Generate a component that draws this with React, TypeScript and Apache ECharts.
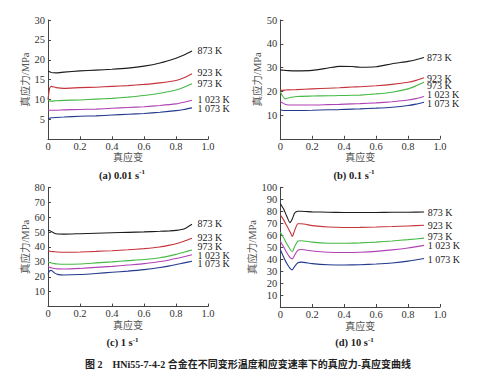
import React, { useEffect, useRef } from "react";
import * as echarts from "echarts";

const temps = ["873 K", "923 K", "973 K", "1 023 K", "1 073 K"];
const colors = ["#1c1c1c", "#c4343a", "#46b946", "#b043b4", "#243a8e"];

// (a) 0.01 s-1
const strainA = [0, 0.01, 0.02, 0.05, 0.1, 0.2, 0.3, 0.4, 0.5, 0.6, 0.7, 0.8, 0.85, 0.9];
const a873 = [17.1, 17.0, 16.8, 16.7, 16.9, 17.2, 17.4, 17.6, 17.9, 18.4, 19.2, 20.4, 21.2, 22.2];
const a923 = [10.0, 12.8, 13.3, 13.0, 12.8, 13.0, 13.1, 13.3, 13.5, 13.8, 14.2, 14.8, 15.5, 16.5];
const a973 = [10.0, 9.6, 9.6, 9.7, 9.8, 9.9, 10.1, 10.3, 10.6, 11.0, 11.6, 12.4, 13.1, 14.0];
const a1023 = [7.4, 7.3, 7.3, 7.3, 7.4, 7.5, 7.6, 7.8, 8.0, 8.2, 8.5, 8.9, 9.3, 9.8];
const a1073 = [5.2, 5.3, 5.4, 5.5, 5.6, 5.8, 5.9, 6.1, 6.3, 6.5, 6.8, 7.2, 7.5, 7.9];

// (b) 0.1 s-1
const strainB = [0, 0.01, 0.03, 0.05, 0.1, 0.2, 0.3, 0.37, 0.45, 0.5, 0.6, 0.7, 0.8, 0.85, 0.9];
const b873 = [29.0, 28.9, 28.8, 28.7, 28.6, 28.8, 29.8, 30.5, 30.4, 30.1, 30.3, 31.6, 32.6, 33.3, 34.2];
const b923 = [20.5, 20.4, 20.5, 20.6, 20.7, 21.0, 21.3, 21.5, 21.8, 21.9, 22.3, 22.9, 23.8, 24.6, 25.7];
const b973 = [19.8, 18.5, 16.8, 17.2, 17.8, 18.0, 18.1, 18.2, 18.3, 18.4, 18.9, 19.6, 21.0, 22.3, 23.8];
const b1023 = [15.6, 15.3, 14.5, 14.2, 14.2, 14.2, 14.4, 14.5, 14.7, 14.8, 15.1, 15.6, 16.3, 16.9, 17.8];
const b1073 = [12.2, 12.0, 11.9, 11.9, 11.9, 12.0, 12.2, 12.3, 12.5, 12.6, 12.9, 13.3, 14.0, 14.6, 15.4];

// (c) 1 s-1
const strainC = [0, 0.01, 0.02, 0.04, 0.06, 0.1, 0.2, 0.3, 0.4, 0.5, 0.6, 0.7, 0.76, 0.8, 0.85, 0.9];
const c873 = [51.2, 51.0, 50.3, 49.2, 48.7, 48.6, 48.9, 49.2, 49.5, 49.8, 50.1, 50.5, 50.8, 51.1, 52.0, 55.2];
const c923 = [37.4, 37.2, 37.0, 36.8, 36.6, 36.4, 36.6, 37.0, 37.5, 38.1, 38.9, 40.0, 41.2, 42.2, 43.8, 45.8];
const c973 = [30.0, 29.6, 29.2, 28.8, 28.6, 28.4, 28.6, 29.3, 30.0, 30.8, 31.6, 32.8, 34.0, 35.0, 36.5, 38.0];
const c1023 = [26.8, 26.4, 26.0, 25.5, 25.3, 25.2, 25.6, 26.3, 27.0, 27.9, 28.8, 30.2, 31.3, 32.2, 33.4, 34.8];
const c1073 = [21.6, 24.0, 24.3, 22.6, 21.6, 21.2, 21.5, 22.2, 23.0, 23.8, 24.8, 26.2, 27.3, 28.2, 29.3, 30.4];

// (d) 10 s-1
const strainD = [0, 0.02, 0.04, 0.06, 0.075, 0.09, 0.11, 0.13, 0.2, 0.3, 0.4, 0.5, 0.6, 0.7, 0.8, 0.9];
const d873 = [86.5, 82, 76, 70.5, 73.5, 78.5, 80.0, 80.0, 79.5, 79.2, 79.0, 79.0, 79.0, 79.1, 79.2, 79.4];
const d923 = [77, 73, 68, 63, 59, 64, 69.5, 69.5, 68.0, 66.8, 66.4, 66.5, 66.8, 67.2, 67.7, 68.3];
const d973 = [62.5, 58, 53, 48.5, 46.2, 50.5, 55.2, 55.4, 54.2, 53.3, 53.2, 53.6, 54.2, 55.2, 56.3, 57.5];
const d1023 = [55, 50.5, 45.5, 41.5, 40.2, 43.5, 47.5, 48.0, 46.8, 45.8, 45.5, 45.8, 46.5, 47.7, 49.3, 51.5];
const d1073 = [48, 42, 36.5, 32.5, 31.0, 34.0, 37.0, 37.5, 36.2, 35.3, 35.1, 35.3, 35.9, 36.8, 38.3, 40.5];

const xTicks = ["0", "0.2", "0.4", "0.6", "0.8", "1.0"];
const yMax = [30, 50, 80, 100];
const yStep = [5, 10, 10, 10];
const subtitles = ["(a) 0.01 s", "(b) 0.1 s", "(c) 1 s", "(d) 10 s"];
const xName = "真应变";
const yName = "真应力/MPa";
const caption = "图 2    HNi55-7-4-2 合金在不同变形温度和应变速率下的真应力-真应变曲线";

const panels = [
  { strain: strainA, curves: [a873, a923, a973, a1023, a1073] },
  { strain: strainB, curves: [b873, b923, b973, b1023, b1073] },
  { strain: strainC, curves: [c873, c923, c973, c1023, c1073] },
  { strain: strainD, curves: [d873, d923, d973, d1023, d1073] },
];

const grids = [
  { left: 48, top: 20, width: 160, height: 119.3 },
  { left: 280.3, top: 20, width: 159.7, height: 118.8 },
  { left: 48, top: 187.3, width: 160, height: 119.3 },
  { left: 280.3, top: 187.3, width: 159.7, height: 119.7 },
];

const labelPos = [
  { x: 197.5, ys: [50.7, 72.3, 83.3, 99, 108.3] },
  { x: 427, ys: [57.7, 78.8, 85.5, 94.6, 103.5] },
  { x: 197.5, ys: [223.3, 237.0, 246.5, 255.8, 263.8] },
  { x: 427.7, ys: [212.3, 225, 236, 245.3, 259.3] },
];
const subPos = [
  { x: 122, y: 175 },
  { x: 354, y: 175 },
  { x: 122.5, y: 342.7 },
  { x: 354.5, y: 342.7 },
];

const SERIF = "'Liberation Serif', 'Noto Sans CJK SC', serif";
const CJK = "'Liberation Serif', 'Noto Sans CJK SC', sans-serif";

export default function App() {
  const ref = useRef<HTMLDivElement>(null);
  useEffect(() => {
    document.body.style.margin = "0";
    if (!ref.current) return;
    const chart = echarts.init(ref.current, null, { renderer: "svg" });

    const xAxis = grids.map((_, i) => ({
      type: "value",
      gridIndex: i,
      min: 0,
      max: 1,
      interval: 0.2,
      name: xName,
      nameLocation: "middle",
      nameGap: i < 2 ? 12 : 14,
      nameTextStyle: { fontFamily: CJK, fontSize: 10, color: "#555" },
      axisLine: { show: true, lineStyle: { color: "#444", width: 1 } },
      axisTick: { show: true, inside: true, length: 3, lineStyle: { color: "#444" } },
      splitLine: { show: false },
      axisLabel: {
        fontFamily: SERIF,
        fontSize: 10.5,
        color: "#333",
        margin: 2,
        formatter: (v: number) => xTicks[Math.round(v / 0.2)] ?? "",
      },
    }));

    const yAxis = grids.map((_, i) => ({
      type: "value",
      gridIndex: i,
      min: 0,
      max: yMax[i],
      interval: yStep[i],
      name: yName,
      nameLocation: "middle",
      nameGap: 16,
      nameTextStyle: { fontFamily: CJK, fontSize: 10.5, color: "#555" },
      axisLine: { show: true, lineStyle: { color: "#444", width: 1 } },
      axisTick: { show: true, inside: true, length: 3, lineStyle: { color: "#444" } },
      splitLine: { show: false },
      axisLabel: {
        fontFamily: SERIF,
        fontSize: 10.5,
        color: "#333",
        margin: 3,
        showMinLabel: false,
      },
    }));

    const series: any[] = [];
    panels.forEach((p, i) => {
      p.curves.forEach((c, k) => {
        series.push({
          type: "line",
          xAxisIndex: i,
          yAxisIndex: i,
          data: p.strain.map((s, j) => [s, c[j]]),
          showSymbol: false,
          smooth: 0.2,
          lineStyle: { width: 1.1, color: colors[k] },
          itemStyle: { color: colors[k] },
          silent: true,
        });
      });
    });

    const graphic: any[] = [];
    labelPos.forEach((lp) => {
      lp.ys.forEach((y, k) => {
        graphic.push({
          type: "text",
          x: lp.x,
          y,
          style: {
            text: temps[k],
            fontFamily: SERIF,
            fontSize: 10,
            fill: "#222",
            verticalAlign: "middle",
            align: "left",
          },
        });
      });
    });
    subPos.forEach((sp, i) => {
      graphic.push({
        type: "text",
        x: sp.x,
        y: sp.y,
        style: {
          text: subtitles[i] + "{sup|-1}",
          fontFamily: SERIF,
          fontSize: 10.5,
          fontWeight: "bold",
          fill: "#222",
          align: "center",
          verticalAlign: "middle",
          rich: {
            sup: {
              fontFamily: SERIF,
              fontSize: 7,
              fontWeight: "bold",
              fill: "#222",
              padding: [0, 0, 6, 0],
            },
          },
        },
      });
    });
    graphic.push({
      type: "text",
      x: 248,
      y: 364,
      style: {
        text: caption,
        fontFamily: CJK,
        fontSize: 10,
        fontWeight: "bold",
        fill: "#222",
        align: "center",
        verticalAlign: "middle",
      },
    });

    chart.setOption({
      animation: false,
      backgroundColor: "#fff",
      grid: grids,
      xAxis,
      yAxis,
      series,
      graphic,
    });
    return () => chart.dispose();
  }, []);
  return <div ref={ref} style={{ width: 479, height: 375 }} />;
}
